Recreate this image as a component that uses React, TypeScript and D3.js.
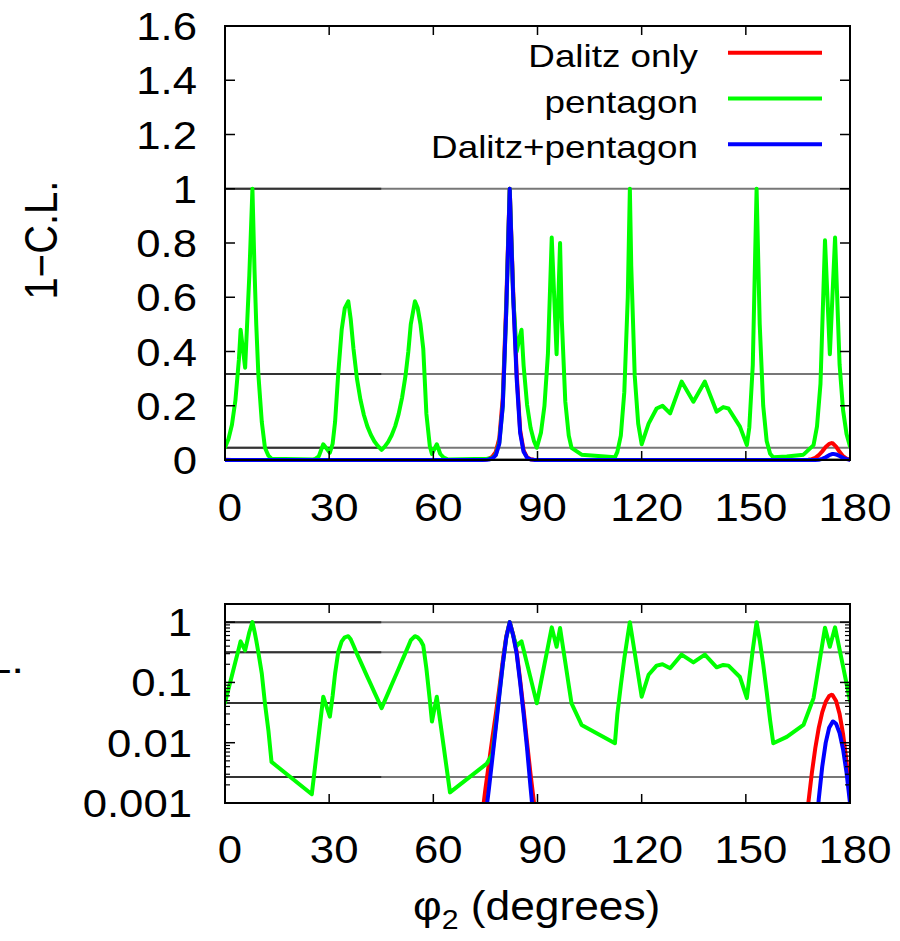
import React from "react";
import * as d3 from "d3";

// ---- data ----
const xTicks = [0, 30, 60, 90, 120, 150, 180];
const yTicksLin = [0, 0.2, 0.4, 0.6, 0.8, 1, 1.2, 1.4, 1.6];
const yTickLabelsLin = ["0", "0.2", "0.4", "0.6", "0.8", "1", "1.2", "1.4", "1.6"];
const yTicksLog = [1, 0.1, 0.01, 0.001];
const yTickLabelsLog = ["1", "0.1", "0.01", "0.001"];
const refLevels = [1, 0.3173, 0.0455, 0.0027];

const legendLabels = ["Dalitz only", "pentagon", "Dalitz+pentagon"];
const seriesColors = ["#ff0000", "#00ff00", "#0000ff"];

const pentagonPhi = [0, 1, 2, 3, 4, 4.5, 5.8, 7, 7.9, 8.5, 9, 9.6, 10.6, 11.5, 12.5, 13.4, 25, 26, 27, 28.3, 30.2, 31, 31.7, 32.6, 33.6, 34.5, 35.5, 36.2, 37, 38, 39, 40, 41, 42, 43, 44, 45.1, 46, 47, 48, 49, 50, 51, 52, 52.8, 53.5, 54.7, 55.5, 56.3, 57.1, 58, 59, 59.6, 61, 62, 63, 64, 64.8, 75.4, 77, 78, 79, 80, 81, 82, 83, 84, 85, 85.4, 86, 87, 88, 89, 89.8, 91, 92, 93, 94.1, 95.5, 96.5, 97, 98, 99, 99.8, 102.7, 112.3, 113, 114, 115, 116, 116.6, 117, 118, 119, 120, 122, 124.3, 126, 128.2, 131.5, 134.9, 138.2, 141.6, 143.5, 145, 148.3, 150.3, 151, 152, 153.1, 154, 155, 156, 157, 157.9, 161.8, 166.6, 169.5, 170.5, 171.5, 172.8, 174.2, 175.7, 177, 178, 179, 180];
const pentagonCL = [0.046, 0.0775, 0.13, 0.22, 0.37, 0.48, 0.34, 0.68, 1.0, 0.7, 0.5, 0.317, 0.14, 0.045, 0.016, 0.0048, 0.0014, 0.0043, 0.0134, 0.058, 0.027, 0.06, 0.14, 0.317, 0.48, 0.56, 0.585, 0.52, 0.41, 0.3, 0.223, 0.166, 0.124, 0.093, 0.069, 0.052, 0.0375, 0.0494, 0.067, 0.0913, 0.124, 0.169, 0.23, 0.312, 0.4, 0.5, 0.585, 0.56, 0.5, 0.41, 0.17, 0.05, 0.0224, 0.058, 0.0221, 0.00846, 0.00323, 0.0015, 0.0045, 0.0065, 0.02, 0.065, 0.2, 0.55, 1.0, 0.6, 0.4, 0.46, 0.48, 0.348, 0.203, 0.119, 0.069, 0.045, 0.101, 0.199, 0.39, 0.82, 0.39, 0.8, 0.516, 0.216, 0.09, 0.045, 0.0197, 0.0098, 0.03, 0.09, 0.25, 0.6, 1.0, 0.715, 0.31, 0.134, 0.058, 0.134, 0.19, 0.2, 0.172, 0.289, 0.215, 0.289, 0.178, 0.195, 0.19, 0.123, 0.055, 0.12, 0.35, 1.0, 0.5, 0.2, 0.07, 0.0233, 0.0098, 0.0125, 0.0197, 0.055, 0.124, 0.281, 0.81, 0.39, 0.82, 0.352, 0.184, 0.096, 0.05];

const dalitzPhi = [0, 2, 10, 70, 73, 74.5, 75, 76, 77, 78, 79, 80, 81, 82, 83, 84, 85, 86, 87, 88, 89, 90, 92, 100, 165, 166, 167, 168, 169, 170, 171, 172, 173, 174, 174.7, 175, 176, 177, 178, 179, 180];
const dalitzCL = [0.0009, 0.0002, 1e-5, 1e-5, 2.5e-4, 0.001, 0.0017, 0.0045, 0.012, 0.03, 0.08, 0.23, 0.58, 1.0, 0.62, 0.32, 0.11, 0.035, 0.01, 0.003, 0.001, 3.0e-4, 5e-5, 1e-5, 1e-5, 5.8e-5, 2.6e-4, 0.001, 0.0031, 0.0081, 0.0176, 0.0318, 0.0477, 0.0594, 0.0623, 0.0615, 0.0493, 0.0301, 0.0139, 0.0049, 0.0013];

const combinedPhi = [0, 72, 74, 75.5, 76, 77, 78, 79, 80, 81, 82, 83, 84, 85, 86, 87, 88, 89, 90, 92, 168, 169, 170, 171, 172, 173, 174, 175, 175.2, 176, 177, 178, 179, 180];
const combinedCL = [1e-5, 1e-5, 2.0e-4, 0.001, 0.0017, 0.0055, 0.018, 0.06, 0.2, 0.55, 1.0, 0.6, 0.3, 0.1, 0.03, 0.008, 0.0018, 4.5e-4, 1.2e-4, 1e-5, 1e-5, 3.5e-5, 2.4e-4, 0.00116, 0.004, 0.00995, 0.0177, 0.0223, 0.0225, 0.0206, 0.0145, 0.0078, 0.0032, 0.001];

const FONT = "'Liberation Sans', Arial, Helvetica, sans-serif";
const SX = 1.15;

function T({ x, y, size, anchor = "start", children, sx = SX }: any) {
  return (
    <text
      transform={`translate(${x},${y}) scale(${sx},1)`}
      textAnchor={anchor}
      fontSize={size}
      fontFamily={FONT}
      fill="#000"
    >
      {children}
    </text>
  );
}

export default function App() {
  const L = 225, R = 850;
  const topT = 26, topB = 460;
  const botT = 604, botB = 803;

  const x = d3.scaleLinear().domain([0, 180]).range([L, R]);
  const yLin = d3.scaleLinear().domain([0, 1.6]).range([topB, topT]);
  const yLog = d3.scaleLog().domain([0.001, 2]).range([botB, botT]);

  const series = [
    { phi: dalitzPhi, cl: dalitzCL, color: seriesColors[0] },
    { phi: pentagonPhi, cl: pentagonCL, color: seriesColors[1] },
    { phi: combinedPhi, cl: combinedCL, color: seriesColors[2] },
  ];

  const mkLine = (ys: any) =>
    d3
      .line<[number, number]>()
      .x((d) => x(d[0]))
      .y((d) => ys(d[1]));

  const pairs = (s: any) => s.phi.map((p: number, i: number) => [p, s.cl[i]] as [number, number]);

  const minorLog: number[] = [];
  [0.001, 0.01, 0.1, 1].forEach((dec) => {
    for (let k = 2; k <= 9; k++) {
      const v = dec * k;
      if (v <= 2) minorLog.push(v);
    }
  });

  const refLinesPanel = (ys: any, key: string) =>
    refLevels.map((lv, i) => (
      <g key={key + i}>
        <line x1={L} x2={R} y1={ys(lv)} y2={ys(lv)} stroke="#777" strokeWidth={2} />
        <line x1={L} x2={x(45)} y1={ys(lv)} y2={ys(lv)} stroke="#333" strokeWidth={2} />
      </g>
    ));

  const tickLen = 10;

  return (
    <svg
      width={900}
      height={941}
      style={{ position: "absolute", left: 0, top: 0, background: "#fff" }}
    >
      <defs>
        <clipPath id="clipTop">
          <rect x={L} y={topT} width={R - L} height={topB - topT + 3} />
        </clipPath>
        <clipPath id="clipBot">
          <rect x={L} y={botT} width={R - L} height={botB - botT} />
        </clipPath>
      </defs>
      <rect x={0} y={0} width={900} height={941} fill="#fff" />

      {/* ---------- TOP PANEL ---------- */}
      {refLinesPanel(yLin, "rt")}
      <g clipPath="url(#clipTop)">
        {series.map((s, i) => (
          <path
            key={"t" + i}
            d={mkLine(yLin)(pairs(s)) || ""}
            fill="none"
            stroke={s.color}
            strokeWidth={4}
            strokeLinejoin="round"
            strokeLinecap="round"
          />
        ))}
      </g>
      {yTicksLin.map((v, i) => (
        <g key={"ytl" + i}>
          <line x1={L} x2={L + tickLen} y1={yLin(v)} y2={yLin(v)} stroke="#000" strokeWidth={1.5} />
          <line x1={R} x2={R - tickLen} y1={yLin(v)} y2={yLin(v)} stroke="#000" strokeWidth={1.5} />
          <T x={197} y={yLin(v) + 14} size={38} anchor="end">
            {yTickLabelsLin[i]}
          </T>
        </g>
      ))}
      {xTicks.map((v, i) => (
        <g key={"xtt" + i}>
          <line x1={x(v)} x2={x(v)} y1={topB} y2={topB - 9} stroke="#000" strokeWidth={1.5} />
          <line x1={x(v)} x2={x(v)} y1={topT} y2={topT + 9} stroke="#000" strokeWidth={1.5} />
          <T x={x(v) + 5} y={521} size={38} anchor="middle">
            {String(v)}
          </T>
        </g>
      ))}
      <rect x={L} y={topT} width={R - L} height={topB - topT} fill="none" stroke="#000" strokeWidth={2} />
      {legendLabels.map((lab, i) => (
        <g key={"lg" + i}>
          <T x={698} y={67 + i * 45.5} size={32} anchor="end">
            {lab}
          </T>
          <line
            x1={728}
            x2={822}
            y1={52.7 + i * 45.8}
            y2={52.7 + i * 45.8}
            stroke={seriesColors[i]}
            strokeWidth={4}
          />
        </g>
      ))}
      <text
        transform="translate(57,240) scale(1.15,1) rotate(-90)"
        textAnchor="middle"
        fontSize={40}
        fontFamily={FONT}
      >
        1−C.L.
      </text>

      {/* ---------- BOTTOM PANEL ---------- */}
      {refLinesPanel(yLog, "rb")}
      <g clipPath="url(#clipBot)">
        {series.map((s, i) => (
          <path
            key={"b" + i}
            d={mkLine(yLog)(pairs(s)) || ""}
            fill="none"
            stroke={s.color}
            strokeWidth={4}
            strokeLinejoin="round"
            strokeLinecap="round"
          />
        ))}
      </g>
      {minorLog.map((v, i) => (
        <g key={"ml" + i}>
          <line x1={L} x2={L + 5} y1={yLog(v)} y2={yLog(v)} stroke="#000" strokeWidth={1.2} />
          <line x1={R} x2={R - 5} y1={yLog(v)} y2={yLog(v)} stroke="#000" strokeWidth={1.2} />
        </g>
      ))}
      {yTicksLog.map((v, i) => (
        <g key={"ylg" + i}>
          <line x1={L} x2={L + tickLen} y1={yLog(v)} y2={yLog(v)} stroke="#000" strokeWidth={1.5} />
          <line x1={R} x2={R - tickLen} y1={yLog(v)} y2={yLog(v)} stroke="#000" strokeWidth={1.5} />
          <T x={192} y={yLog(v) + 14} size={38} anchor="end">
            {yTickLabelsLog[i]}
          </T>
        </g>
      ))}
      {xTicks.map((v, i) => (
        <g key={"xtb" + i}>
          <line x1={x(v)} x2={x(v)} y1={botB} y2={botB - 9} stroke="#000" strokeWidth={1.5} />
          <line x1={x(v)} x2={x(v)} y1={botT} y2={botT + 9} stroke="#000" strokeWidth={1.5} />
          <T x={x(v) + 5} y={863} size={38} anchor="middle">
            {String(v)}
          </T>
        </g>
      ))}
      <rect x={L} y={botT} width={R - L} height={botB - botT} fill="none" stroke="#000" strokeWidth={2} />
      {/* y label of the lower panel, cut off at the left edge as in the reference */}
      <T x={24} y={673} size={40} anchor="end">
        1−C.L.
      </T>
      <text
        transform="translate(413,920) scale(1.08,1)"
        fontSize={41}
        fontFamily={FONT}
      >
        <tspan>φ</tspan>
        <tspan fontSize={28} dy={9}>2</tspan>
        <tspan dy={-9}> (degrees)</tspan>
      </text>
    </svg>
  );
}
